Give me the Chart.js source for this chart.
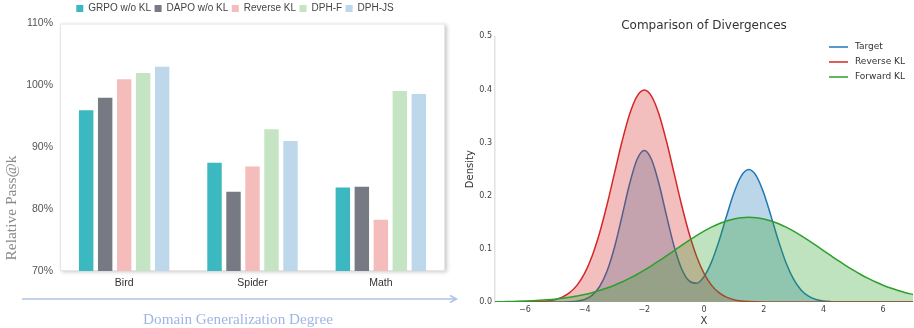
<!DOCTYPE html>
<html><head><meta charset="utf-8">
<script src="https://cdn.jsdelivr.net/npm/chart.js@4/dist/chart.umd.min.js"></script>
<style>
html,body{margin:0;padding:0;background:#fff;width:914px;height:328px;overflow:hidden}
#c1{position:absolute;left:0;top:0}
#c2{position:absolute;left:460px;top:0}
</style></head><body>
<canvas id="c1" width="460" height="328"></canvas>
<canvas id="c2" width="454" height="328"></canvas>
<script>
// ---------- Left panel data ----------
const categories = ['Bird', 'Spider', 'Math'];
const seriesNames = ['GRPO w/o KL', 'DAPO w/o KL', 'Reverse KL', 'DPH-F', 'DPH-JS'];
const grpoWoKL = [96.0, 87.5, 83.5];
const dapoWoKL = [98.0, 82.8, 83.6];
const reverseKLBars = [101.0, 86.9, 78.3];
const dphF = [102.0, 92.9, 99.1];
const dphJS = [103.0, 91.0, 98.6];
const leftYTicks = [70, 80, 90, 100, 110];
const barColors = ['#3cb9c0', '#787a83', '#f5bcbc', '#c5e4c4', '#bdd8ea'];

// ---------- Right panel data ----------
const xValues = [-7,-6.75,-6.5,-6.25,-6,-5.75,-5.5,-5.25,-5,-4.75,-4.5,-4.25,-4,-3.75,-3.5,-3.25,-3,-2.75,-2.5,-2.25,-2,-1.75,-1.5,-1.25,-1,-0.75,-0.5,-0.25,0,0.25,0.5,0.75,1,1.25,1.5,1.75,2,2.25,2.5,2.75,3,3.25,3.5,3.75,4,4.25,4.5,4.75,5,5.25,5.5,5.75,6,6.25,6.5,6.75,7];
const targetDensity = [0,0,0,0,0,0,0,0,0,
  0.0001,0.0005,0.0016,0.0048,0.0125,0.0287,0.0579,0.1027,0.1605,0.2208,0.2674,0.2850,0.2674,0.2208,0.1612,0.1046,0.0627,0.0397,0.0353,0.0478,0.0751,0.1146,0.1608,0.2051,0.2374,0.2493,0.2374,0.2051,0.1607,0.1141,0.0735,0.0430,0.0228,0.0110,0.0048,0.0019,0.0007,0.0002,0.0001,
  0,0,0,0,0,0,0,0,0];
const reverseKLDensity = [0,0,0,0.0001,0.0001,0.0004,0.0009,0.0020,0.0044,0.0091,0.0175,0.0317,0.0540,0.0863,0.1295,0.1826,0.2420,0.3011,0.3521,0.3867,0.3989,0.3867,0.3521,0.3011,0.2420,0.1826,0.1295,0.0863,0.0540,0.0317,0.0175,0.0091,0.0044,0.0020,0.0009,0.0004,0.0001,0,
  0,0,0,0,0,0,0,0,0,0,0,0,0,0,0,0,0,0,0];
const forwardKLDensity = [0.0005,0.0007,0.0010,0.0013,0.0018,0.0024,0.0032,0.0042,0.0054,0.0070,0.0090,0.0113,0.0142,0.0176,0.0216,0.0263,0.0316,0.0376,0.0444,0.0518,0.0599,0.0686,0.0777,0.0872,0.0968,0.1065,0.1159,0.1249,0.1333,0.1409,0.1473,0.1526,0.1564,0.1588,0.1596,0.1588,0.1564,0.1526,0.1473,0.1409,0.1333,0.1249,0.1159,0.1065,0.0968,0.0872,0.0777,0.0686,0.0599,0.0518,0.0444,0.0376,0.0316,0.0263,0.0216,0.0176,0.0142];
const rightXTicks = [-6, -4, -2, 0, 2, 4, 6];
const rightYTicks = [0, 0.1, 0.2, 0.3, 0.4, 0.5];
const curveNames = ['Target', 'Reverse KL', 'Forward KL'];
const curveColors = ['#1f77b4', '#d62728', '#2ca02c'];
const curveFills = ['rgba(31,119,180,0.3)', 'rgba(214,39,40,0.3)', 'rgba(44,160,44,0.3)'];

Chart.defaults.font.family = '"Liberation Sans", Arial, sans-serif';
Chart.defaults.animation = false;

// ---------- Left chart ----------
const boxPlugin = {
  id: 'boxPlugin',
  beforeDraw(chart) {
    const {ctx, chartArea: a} = chart;
    ctx.save();
    ctx.shadowColor = 'rgba(0,0,0,0.22)';
    ctx.shadowBlur = 4;
    ctx.shadowOffsetX = 2;
    ctx.shadowOffsetY = 1;
    ctx.fillStyle = '#fff';
    ctx.fillRect(a.left, a.top, a.width, a.height);
    ctx.restore();
    ctx.save();
    ctx.strokeStyle = '#e6e6e6';
    ctx.lineWidth = 1;
    ctx.strokeRect(a.left + 0.5, a.top + 0.5, a.width - 1, a.height - 1);
    ctx.restore();
  },
  afterDraw(chart) {
    const ctx = chart.ctx;
    ctx.save();
    // arrow
    ctx.strokeStyle = '#b0c4e8';
    ctx.lineWidth = 1.5;
    ctx.beginPath();
    ctx.moveTo(22, 299); ctx.lineTo(456, 299);
    ctx.moveTo(450, 295.5); ctx.lineTo(456.5, 299); ctx.lineTo(450, 302.5);
    ctx.stroke();
    // x title
    ctx.fillStyle = '#a0b5e4';
    ctx.font = '15.2px "Liberation Serif", "Times New Roman", serif';
    ctx.textAlign = 'center';
    ctx.textBaseline = 'middle';
    ctx.fillText('Domain Generalization Degree', 238, 320);
    // y title
    ctx.translate(12, 208);
    ctx.rotate(-Math.PI / 2);
    ctx.fillStyle = '#8a8a8a';
    ctx.font = '15.5px "Liberation Serif", "Times New Roman", serif';
    ctx.fillText('Relative Pass@k', 0, 0);
    ctx.restore();
  }
};

const barSeries = [grpoWoKL, dapoWoKL, reverseKLBars, dphF, dphJS];
new Chart(document.getElementById('c1'), {
  type: 'bar',
  data: {
    labels: categories,
    datasets: seriesNames.map((n, i) => ({
      label: n,
      data: barSeries[i],
      backgroundColor: barColors[i],
      borderWidth: 0,
      categoryPercentage: 0.74,
      barPercentage: 0.76
    }))
  },
  options: {
    responsive: false,
    devicePixelRatio: 1,
    events: [],
    layout: {padding: {left: 25, right: 15, top: 0, bottom: 0}},
    plugins: {
      tooltip: {enabled: false},
      legend: {
        position: 'top',
        labels: {boxWidth: 7, boxHeight: 7, padding: 3.5, color: '#444', font: {size: 10}}
      }
    },
    scales: {
      x: {
        grid: {display: false, drawTicks: false},
        border: {display: false},
        ticks: {color: '#333', font: {size: 10.5}, padding: 6},
        afterFit(s) { s.height = 57; }
      },
      y: {
        min: 70, max: 110,
        grid: {display: false, drawTicks: false},
        border: {display: false},
        afterBuildTicks(s) { s.ticks = leftYTicks.map(v => ({value: v})); },
        ticks: {color: '#555', font: {size: 10.5}, padding: 7, callback: v => v + '%'},
        afterFit(s) { s.width = 35; }
      }
    }
  },
  plugins: [boxPlugin]
});

// ---------- Right chart ----------
const legendPlugin = {
  id: 'insideLegend',
  afterDraw(chart) {
    const ctx = chart.ctx;
    ctx.save();
    ctx.font = '9px "DejaVu Sans", sans-serif';
    ctx.textBaseline = 'middle';
    ctx.textAlign = 'left';
    chart.data.datasets.forEach((ds, i) => {
      const y = 47 + i * 15;
      ctx.strokeStyle = ds.borderColor;
      ctx.lineWidth = 1.5;
      ctx.beginPath();
      ctx.moveTo(369, y); ctx.lineTo(388, y);
      ctx.stroke();
      ctx.fillStyle = '#333';
      ctx.fillText(ds.label, 395, y);
    });
    ctx.restore();
  }
};

const curves = [targetDensity, reverseKLDensity, forwardKLDensity];
new Chart(document.getElementById('c2'), {
  type: 'line',
  data: {
    datasets: curveNames.map((n, i) => ({
      label: n,
      data: xValues.map((x, j) => ({x: x, y: curves[i][j]})),
      borderColor: curveColors[i],
      backgroundColor: curveFills[i],
      borderWidth: 1.5,
      pointRadius: 0,
      fill: 'origin',
      cubicInterpolationMode: 'monotone',
      order: 3 - i
    }))
  },
  options: {
    responsive: false,
    devicePixelRatio: 1,
    events: [],
    layout: {padding: {left: 0, right: 1, top: 0, bottom: 0}},
    plugins: {
      tooltip: {enabled: false},
      legend: {display: false},
      title: {
        display: true,
        text: 'Comparison of Divergences',
        fullSize: false,
        color: '#333',
        font: {family: '"DejaVu Sans", sans-serif', size: 12, weight: 'normal'},
        padding: {top: 19, bottom: 3}
      }
    },
    scales: {
      x: {
        type: 'linear', min: -7, max: 7,
        grid: {display: false, drawTicks: false},
        border: {display: false},
        afterBuildTicks(s) { s.ticks = rightXTicks.map(v => ({value: v})); },
        ticks: {color: '#444', font: {family: '"DejaVu Sans", sans-serif', size: 8}, padding: 3,
                callback: v => String(v).replace('-', '\u2212')},
        title: {display: true, text: 'X', color: '#333', font: {family: '"DejaVu Sans", sans-serif', size: 10}, padding: {top: 0, bottom: 1}},
        afterFit(s) { s.height = 26; }
      },
      y: {
        min: 0, max: 0.5,
        grid: {display: false, drawTicks: false},
        border: {display: true, color: '#e2e2e2', width: 1.5},
        afterBuildTicks(s) { s.ticks = rightYTicks.map(v => ({value: v})); },
        ticks: {color: '#444', font: {family: '"DejaVu Sans", sans-serif', size: 8}, padding: 3,
                callback: v => Number(v).toFixed(1)},
        title: {display: true, text: 'Density', color: '#333', font: {family: '"DejaVu Sans", sans-serif', size: 10}, padding: {top: 4, bottom: 0}},
        afterFit(s) { s.width = 35; }
      }
    }
  },
  plugins: [legendPlugin]
});
</script>
</body></html>
